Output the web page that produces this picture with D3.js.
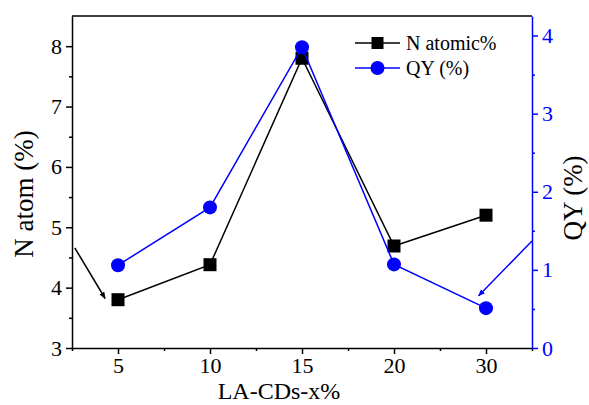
<!DOCTYPE html>
<html>
<head>
<meta charset="utf-8">
<script src="https://cdn.jsdelivr.net/npm/d3@7"></script>
<style>
  body { margin: 0; background: #fff; }
  text { font-family: "Liberation Serif", "Times New Roman", serif; }
</style>
</head>
<body>
<svg id="chart" width="589" height="405"></svg>
<script>
const categories = ["5", "10", "15", "20", "30"];
const nAtomic = [3.8, 4.38, 7.8, 4.69, 5.2];
const qy = [1.06, 1.8, 3.85, 1.07, 0.51];
const leftTicks = [3, 4, 5, 6, 7, 8];
const rightTicks = [0, 1, 2, 3, 4];

const BLUE = "#0000ff";
const SERIF = "'Liberation Serif', 'Times New Roman', serif";
const margin = { top: 16, right: 57, bottom: 57, left: 72 };
const W = 589, H = 405;
const w = W - margin.left - margin.right;
const h = H - margin.top - margin.bottom;

const svg = d3.select("#chart");
const g = svg.append("g").attr("transform", `translate(${margin.left},${margin.top})`);

// categories are evenly spaced, half a step padding at both ends
const x = d3.scaleLinear().domain([-0.5, categories.length - 0.5]).range([0, w]);
const yL = d3.scaleLinear().domain([3, 8.5]).range([h, 0]);
const yR = d3.scaleLinear().domain([0, 4.25]).range([h, 0]);

// frame: top line
g.append("line").attr("x1", 0).attr("x2", w).attr("y1", 0).attr("y2", 0)
  .attr("stroke", "#000").attr("stroke-width", 1.5);

// bottom axis
const xAxis = g.append("g").attr("transform", `translate(0,${h})`)
  .call(d3.axisBottom(x).tickValues(d3.range(categories.length))
    .tickFormat(i => categories[i]).tickSize(6).tickSizeOuter(0).tickPadding(3));
const xMinor = g.append("g").attr("transform", `translate(0,${h})`)
  .call(d3.axisBottom(x).tickValues(d3.range(-0.5, categories.length, 1))
    .tickFormat("").tickSize(3).tickSizeOuter(0));
xMinor.select(".domain").remove();

// left axis
const leftAxis = g.append("g")
  .call(d3.axisLeft(yL).tickValues(leftTicks).tickFormat(d3.format("d"))
    .tickSize(6).tickSizeOuter(0).tickPadding(4));
const leftMinor = g.append("g")
  .call(d3.axisLeft(yL).tickValues(d3.range(3.5, 8.5, 1)).tickFormat("").tickSize(3).tickSizeOuter(0));
leftMinor.select(".domain").remove();

// right axis (blue)
const rightAxis = g.append("g").attr("transform", `translate(${w},0)`)
  .call(d3.axisRight(yR).tickValues(rightTicks).tickFormat(d3.format("d"))
    .tickSize(6).tickSizeOuter(0).tickPadding(4));
const rightMinor = g.append("g").attr("transform", `translate(${w},0)`)
  .call(d3.axisRight(yR).tickValues(d3.range(0.5, 4.25, 1)).tickFormat("").tickSize(3).tickSizeOuter(0));
rightMinor.select(".domain").remove();

[xAxis, xMinor, leftAxis, leftMinor, rightAxis, rightMinor].forEach(a => {
  a.attr("font-family", SERIF).attr("font-size", 22);
  a.select(".domain").attr("stroke-width", 1.5);
  a.selectAll(".tick line").attr("stroke-width", 1.5);
  a.selectAll("text").attr("fill", "#000").style("font-family", SERIF);
});
[rightAxis, rightMinor].forEach(a => {
  a.select(".domain").attr("stroke", BLUE);
  a.selectAll(".tick line").attr("stroke", BLUE);
  a.selectAll("text").attr("fill", BLUE);
});

// axis titles
svg.append("text").attr("x", 279).attr("y", 399)
  .attr("text-anchor", "middle").style("font-size", "24px").text("LA-CDs-x%");
svg.append("text").attr("transform", "translate(33,194) rotate(-90)")
  .attr("text-anchor", "middle").style("font-size", "27px").text("N atom (%)");
svg.append("text").attr("transform", "translate(582,198) rotate(-90)")
  .attr("text-anchor", "middle").style("font-size", "27px").text("QY (%)");

// arrows
const defs = svg.append("defs");
[["arrK", "#000"], ["arrB", BLUE]].forEach(([id, c]) => {
  defs.append("marker").attr("id", id).attr("viewBox", "0 0 10 10")
    .attr("refX", 9).attr("refY", 5).attr("markerWidth", 7).attr("markerHeight", 7)
    .attr("orient", "auto").attr("markerUnits", "userSpaceOnUse")
    .append("path").attr("d", "M0,1 L10,5 L0,9 Z").attr("fill", c);
});
g.append("line")
  .attr("x1", x(-0.47)).attr("y1", yL(4.66))
  .attr("x2", x(-0.14)).attr("y2", yL(3.82))
  .attr("stroke", "#000").attr("stroke-width", 1.5).attr("marker-end", "url(#arrK)");
g.append("line")
  .attr("x1", x(4.5)).attr("y1", yR(1.37))
  .attr("x2", x(3.92)).attr("y2", yR(0.67))
  .attr("stroke", BLUE).attr("stroke-width", 1.5).attr("marker-end", "url(#arrB)");

// N atomic series
const lineL = d3.line().x((d, i) => x(i)).y(d => yL(d));
g.append("path").datum(nAtomic).attr("d", lineL)
  .attr("fill", "none").attr("stroke", "#000").attr("stroke-width", 1.5);
const SQ = 13;
g.selectAll(".sq").data(nAtomic).enter().append("rect").attr("class", "sq")
  .attr("x", (d, i) => x(i) - SQ / 2).attr("y", d => yL(d) - SQ / 2)
  .attr("width", SQ).attr("height", SQ).attr("fill", "#000");

// QY series
const lineR = d3.line().x((d, i) => x(i)).y(d => yR(d));
g.append("path").datum(qy).attr("d", lineR)
  .attr("fill", "none").attr("stroke", BLUE).attr("stroke-width", 1.5);
g.selectAll(".dot").data(qy).enter().append("circle").attr("class", "dot")
  .attr("cx", (d, i) => x(i)).attr("cy", d => yR(d)).attr("r", 7).attr("fill", BLUE);

// legend
const legend = svg.append("g").attr("transform", "translate(355,43)");
const items = [
  { label: "N atomic%", color: "#000", shape: "square" },
  { label: "QY (%)", color: BLUE, shape: "circle" }
];
items.forEach((it, i) => {
  const row = legend.append("g").attr("transform", `translate(0,${i * 25})`);
  row.append("line").attr("x1", 0).attr("x2", 45).attr("y1", 0).attr("y2", 0)
    .attr("stroke", it.color).attr("stroke-width", 1.5);
  if (it.shape === "square") {
    row.append("rect").attr("x", 22.5 - 6).attr("y", -6).attr("width", 12).attr("height", 12).attr("fill", it.color);
  } else {
    row.append("circle").attr("cx", 22.5).attr("cy", 0).attr("r", 7).attr("fill", it.color);
  }
  row.append("text").attr("x", 51).attr("y", 7).style("font-size", "20px")
    .style("font-family", SERIF).text(it.label);
});
</script>
</body>
</html>
